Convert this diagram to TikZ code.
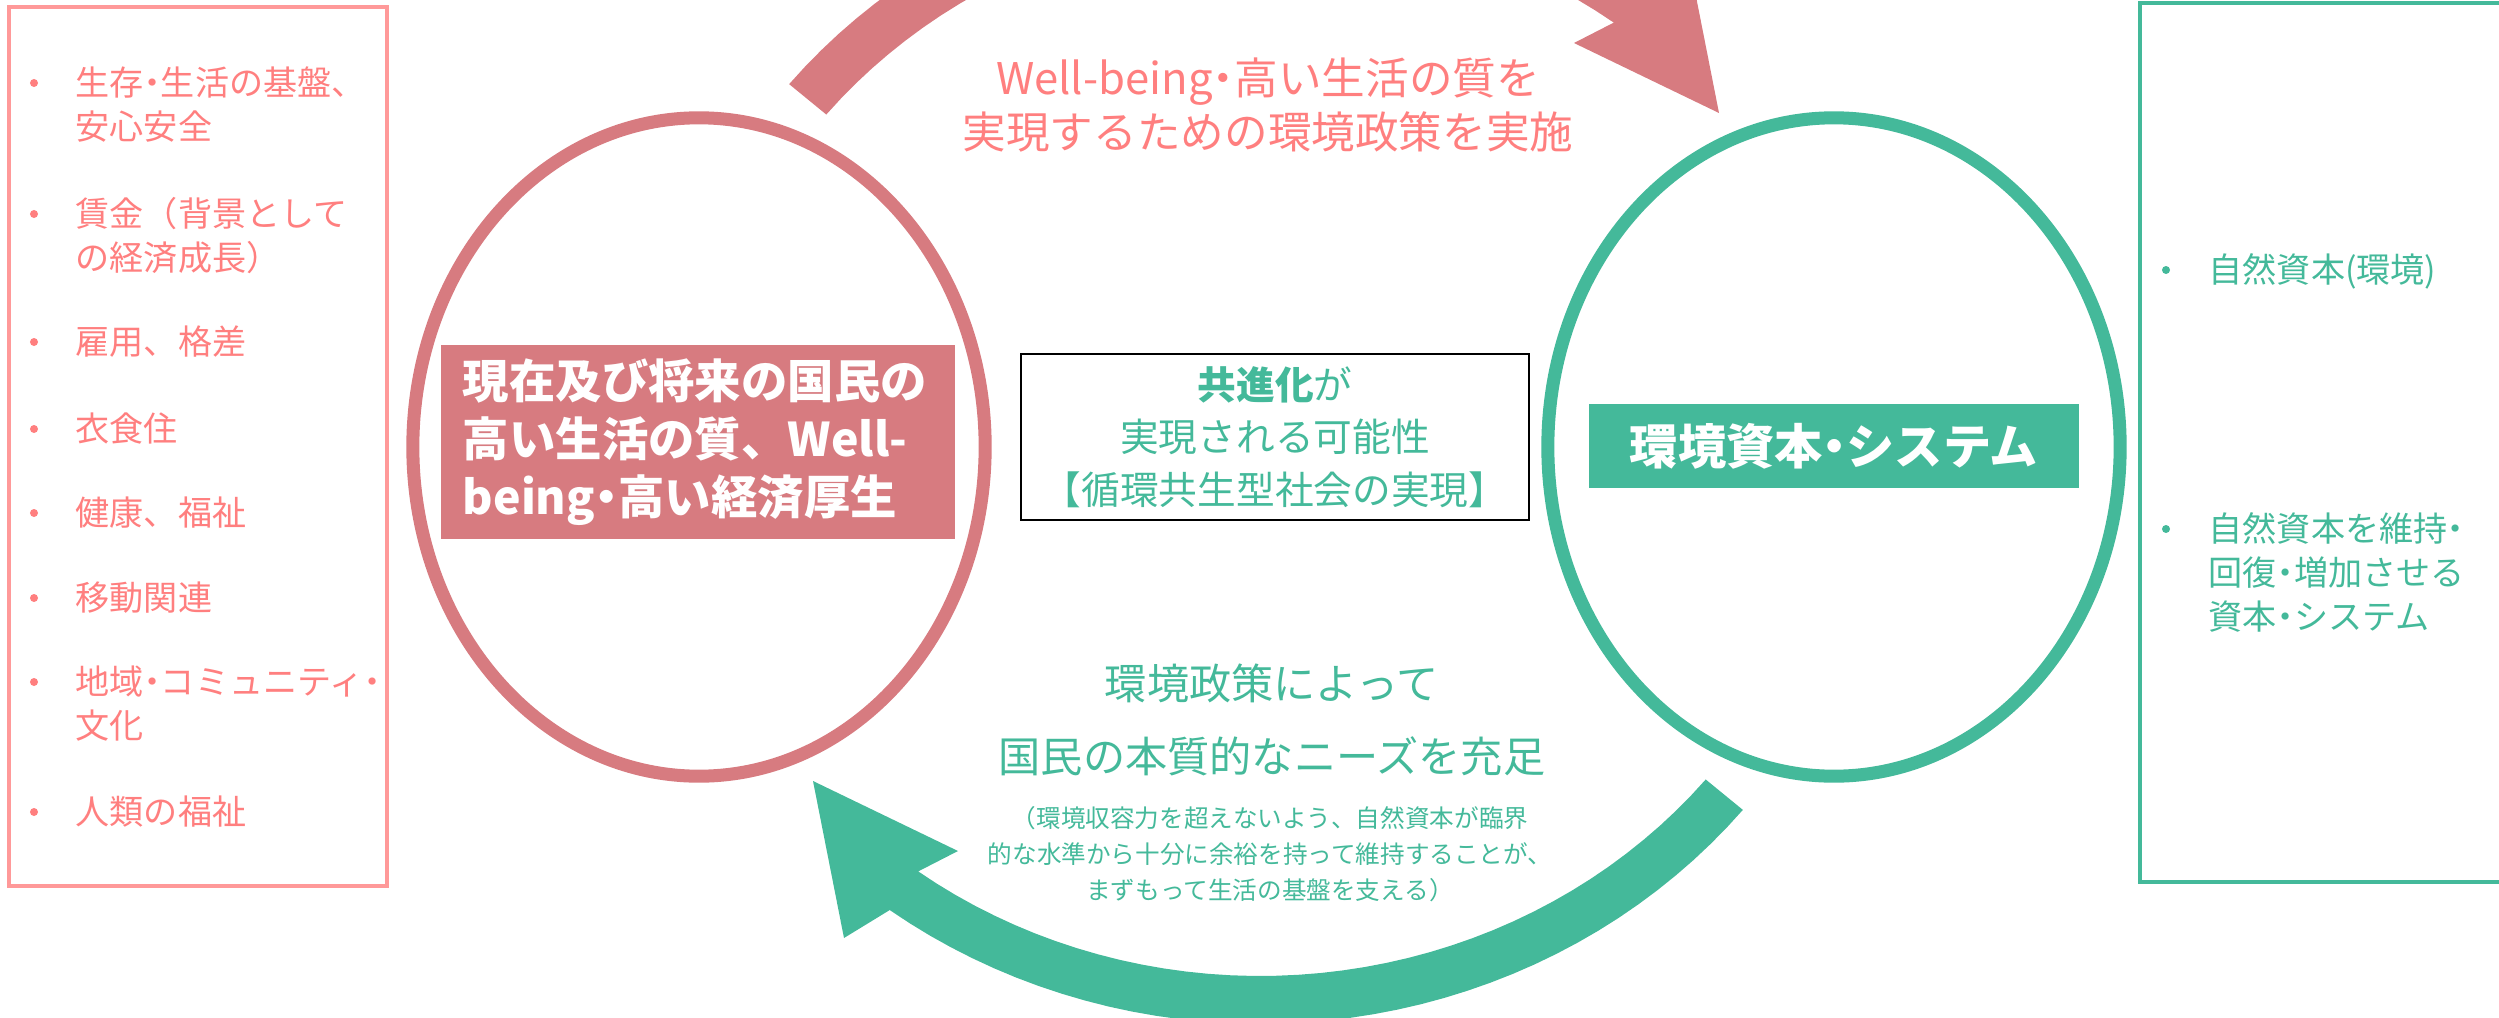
\documentclass[tikz,border=0pt]{standalone}
\usepackage{fontspec}
\setmainfont{Noto Sans CJK JP}
\usetikzlibrary{shapes.geometric}
\definecolor{lifepink}{HTML}{D77B80}
\definecolor{lifesalmon}{HTML}{FF7F7F}
\definecolor{lifebox}{HTML}{FF9999}
\definecolor{ecogreen}{HTML}{44B99A}
\newcommand{\ndot}{\makebox[0.5em]{・}}

\begin{document}
\begin{tikzpicture}
	[x=0.01cm,y=-0.01cm,
	bigoval/.style={ellipse, draw=#1, line width=3.7pt, minimum width=5.72cm, minimum height=6.58cm},
	tagbox/.style={fill=#1, text=white, font=\fontsize{13.2}{16.5}\selectfont\bfseries},
	items/.style={anchor=north west, inner sep=0, align=left, text=#1, font=\fontsize{9.7}{12.5}\selectfont},
	bulletdot/.style={circle, fill=#1, inner sep=0, minimum size=0.08cm}]
	\useasboundingbox (0,0) rectangle (2499,1018);
	\clip (0,0) rectangle (2499,1018);
	
	\draw[lifebox, line width=1.3pt] (9,7) rectangle (387,886);
	\draw[ecogreen, line width=1.4pt] (2140,3) rectangle (2560,882);
	
	\coordinate (mid) at (1266,447);
	\foreach \r/\col in {0/ecogreen,180/lifepink}
	\fill[\col, rotate around={\r:(mid)}] plot[domain=39.3:126.4, samples=40] ({1260+624*cos(\x)},{440+584*sin(\x)}) -- (844,938) -- (813,781) -- (958,851) -- plot[domain=126.4:39.3, samples=40] ({1260+576*cos(\x)},{440+536*sin(\x)}) -- cycle;
	
	\node[bigoval=lifepink] (n1) at (699,447) {};
	\node[bigoval=ecogreen] (n2) at (1834,447) {};
	\node[tagbox=lifepink, minimum width=5.14cm, minimum height=1.94cm, text width=4.7cm, align=left, inner xsep=0.22cm] (t1) at (698,442) {現在及び将来の国民の\\高い生活の質、Well-\\being\ndot 高い経済厚生};
	\node[tagbox=ecogreen, minimum width=4.89cm, minimum height=0.84cm, font=\fontsize{13.7}{16.5}\selectfont\bfseries] (t2) at (1834,446) {環境資本\ndot システム};
	\node[draw, line width=0.6pt, minimum width=5.08cm, minimum height=1.64cm, align=center, text=ecogreen, font=\fontsize{11}{15}\selectfont] (t3) at (1275,437) {\textbf{共進化}が\\実現される可能性\\【循環共生型社会の実現】};
	
	\node[align=center, text=lifesalmon, font=\fontsize{12.4}{15.4}\selectfont] (m1) at (1268,105) {Well-being\ndot 高い生活の質を\\実現するための環境政策を実施};
	\node[align=center, text=ecogreen, font=\fontsize{12}{20.8}\selectfont] (m2) at (1272,720) {環境政策によって\\国民の本質的なニーズを充足};
	\node[align=center, text=ecogreen, font=\fontsize{7}{10.2}\selectfont] (m3) at (1270,854) {（環境収容力を超えないよう、自然資本が臨界\\的な水準から十分に余裕を持って維持することが、\\まずもって生活の基盤を支える）};
	
	\foreach \y/\txt [count=\i] in {66/{生存\ndot 生活の基盤、\\安心安全},197/{賃金（背景として\\の経済成長）},325/{雇用、格差},412/{衣食住},496/{健康、福祉},581/{移動関連},665/{地域\ndot コミュニティ\ndot\\文化},795/{人類の福祉}}
	{
		\node[bulletdot=lifesalmon] (b\i) at (34,\y+17) {};
		\node[items=lifesalmon] (l\i) at (75,\y) {\txt};
	}
	\foreach \y/\txt [count=\i] in {253/{自然資本(環境)},512/{自然資本を維持\ndot\\回復\ndot 増加させる\\資本\ndot システム}}
	{
		\node[bulletdot=ecogreen] (rb\i) at (2166,\y+17) {};
		\node[items=ecogreen] (r\i) at (2208,\y) {\txt};
	}
\end{tikzpicture}
\end{document}
